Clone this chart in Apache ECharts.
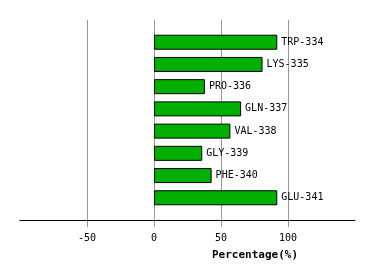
<!DOCTYPE html>
<html><head><meta charset="utf-8">
<script src="https://cdn.jsdelivr.net/npm/echarts@6/dist/echarts.min.js"></script>
<style>html,body{margin:0;padding:0;background:#fff}#c{width:374px;height:280px}</style>
</head><body><div id="c"></div>
<script>
var categories = ['TRP-334','LYS-335','PRO-336','GLN-337','VAL-338','GLY-339','PHE-340','GLU-341'];
var values = [92, 81, 38, 65, 57, 36, 43, 92];
var tickValues = [-50, 0, 50, 100];
var axisMin = -100, axisMax = 150, axisStep = 50;

var yCats = [''].concat(categories).concat(['']);
var yData = ['-'].concat(values).concat(['-']);
var font = 'DejaVu Sans Mono';

var chart = echarts.init(document.getElementById('c'), null, {renderer:'canvas'});
chart.setOption({
  animation: false,
  grid: [
    {left: 20, right: 19, top: 20, bottom: 60, containLabel: false},
    {left: 20, right: 19, top: 20, bottom: 53, containLabel: false}
  ],
  xAxis: [{
    type: 'value', gridIndex: 1, min: axisMin, max: axisMax, interval: axisStep,
    axisLine: {show: false}, axisTick: {show: false}, axisLabel: {show: false},
    splitLine: {show: true, lineStyle: {color: '#999', width: 1}, showMinLine: false, showMaxLine: false}
  }, {
    type: 'value', gridIndex: 0, min: axisMin, max: axisMax, interval: axisStep,
    axisLine: {show: true, onZero: false, lineStyle: {color: '#000', width: 1}},
    axisTick: {show: false},
    axisLabel: {color: '#000', fontFamily: font, fontSize: 10, margin: 13, customValues: tickValues},
    splitLine: {show: false},
    name: 'Percentage(%)', nameLocation: 'middle', nameGap: 30,
    nameTextStyle: {color: '#000', fontFamily: font, fontSize: 11, fontWeight: 'bold', padding: [0,0,0,135]}
  }],
  yAxis: [{
    type: 'value', gridIndex: 1, min: 0, max: 1,
    axisLine: {show: false}, axisTick: {show: false}, axisLabel: {show: false}, splitLine: {show: false}
  }, {
    type: 'category', gridIndex: 0, data: yCats, inverse: true, boundaryGap: false,
    axisLine: {show: false}, axisTick: {show: false}, axisLabel: {show: false}, splitLine: {show: false}
  }],
  series: [{
    type: 'scatter', xAxisIndex: 0, yAxisIndex: 0, silent: true, symbolSize: 0,
    itemStyle: {opacity: 0},
    data: values.map(function(v){ return [v, 0.5]; })
  }, {
    type: 'bar', data: yData, barWidth: 15, xAxisIndex: 1, yAxisIndex: 1,
    itemStyle: {color: '#00b000', borderColor: '#000', borderWidth: 1},
    label: {show: true, position: 'right', distance: 4, color: '#000', fontFamily: font, fontSize: 10,
      formatter: function(p){ return yCats[p.dataIndex]; }}
  }]
});
</script></body></html>
